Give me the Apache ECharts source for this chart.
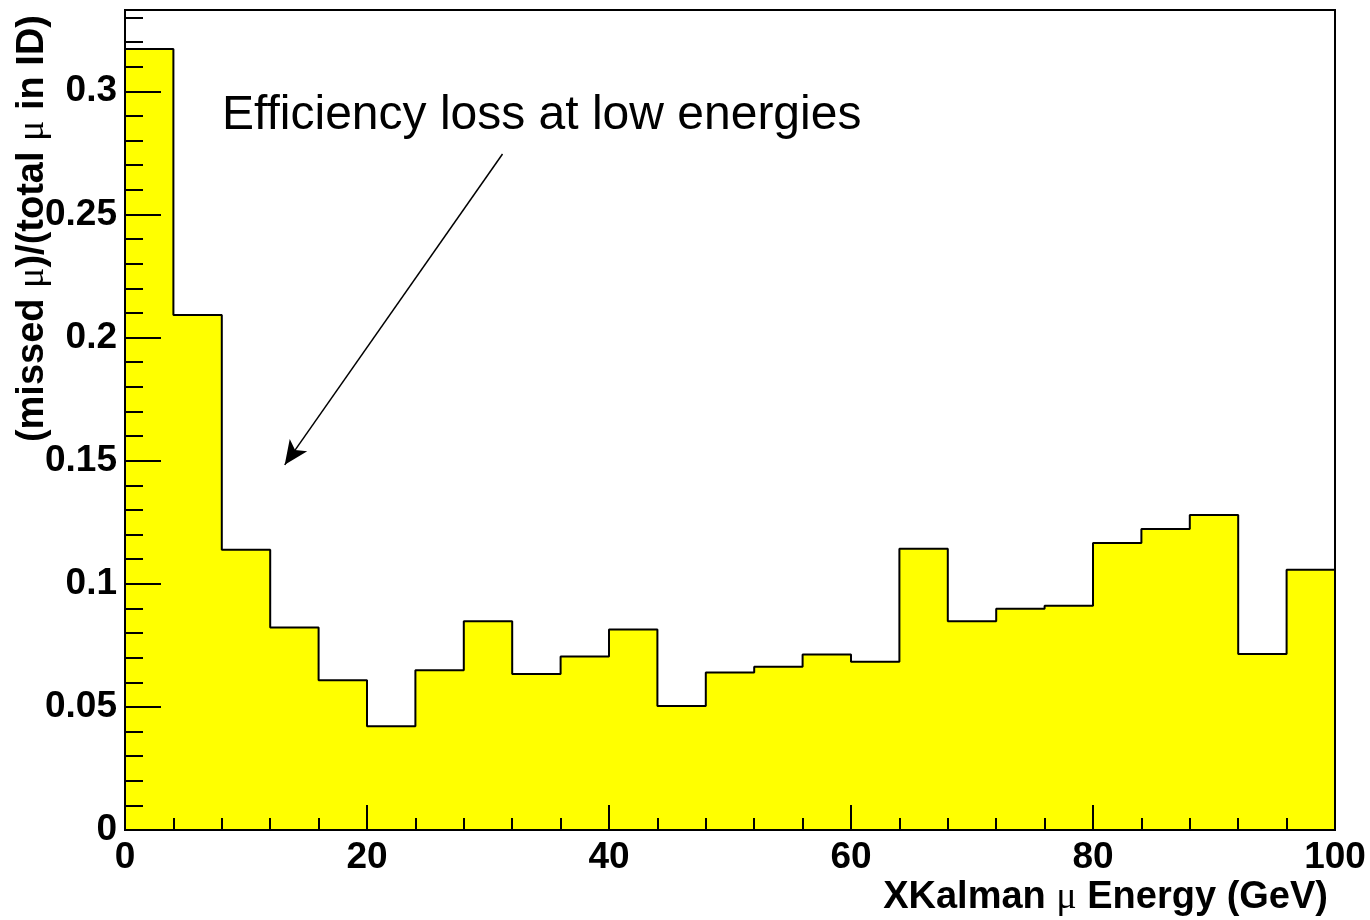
<!DOCTYPE html>
<html>
<head>
<meta charset="utf-8">
<title>Missed muon fraction vs XKalman energy</title>
<script src="https://cdn.jsdelivr.net/npm/echarts@6/dist/echarts.min.js"></script>
<style>
  html, body { margin: 0; padding: 0; background: #ffffff; }
  #chart { width: 1370px; height: 920px; }
</style>
</head>
<body>
<div id="chart"></div>
<script>
// Histogram bin edges (GeV) and the fraction of missed muons in each bin
const binEdges = [0, 4, 8, 12, 16, 20, 24, 28, 32, 36, 40, 44, 48, 52, 56, 60, 64, 68, 72, 76, 80, 84, 88, 92, 96, 100];
const missedFraction = [
  0.3172, 0.2091, 0.1138, 0.0822, 0.0608, 0.0421, 0.0649, 0.0848, 0.0634, 0.0705,
  0.0814, 0.0504, 0.0640, 0.0663, 0.0713, 0.0683, 0.1142, 0.0848, 0.0898, 0.0911,
  0.1165, 0.1222, 0.1279, 0.0715, 0.1057
];

// Axis ranges and tick spacing
const xRange = [0, 100];
const xMajorStep = 20;
const yRange = [0, 0.333];
const yMajorStep = 0.05;
const yMinorStep = 0.01;

// Annotation: text and the arrow pointing at the low-energy bins (data coordinates)
const noteText = 'Efficiency loss at low energies';
const arrowFrom = [31.2, 0.2745];
const arrowTo = [13.2, 0.1483];

// Outline of the histogram as a step path: rise at x=0, one point per bin, drop at x=100
const stepPoints = [[binEdges[0], 0]];
missedFraction.forEach(function (v, i) { stepPoints.push([binEdges[i], v]); });
stepPoints.push([binEdges[binEdges.length - 1], missedFraction[missedFraction.length - 1]]);
stepPoints.push([binEdges[binEdges.length - 1], 0]);

const boldFont = 'Liberation Sans, Arial, Helvetica, sans-serif';
const symbolFont = 'Liberation Serif, DejaVu Serif, serif';
const tickFontSize = 37;
const titleFontSize = 38;

function yLabel(v) {
  if (v > 0.31) return '';
  if (Math.abs(v) < 1e-9) return '0';
  return String(+v.toFixed(2));
}

const chart = echarts.init(document.getElementById('chart'), null, { renderer: 'canvas' });

chart.setOption({
  animation: false,
  backgroundColor: '#ffffff',
  grid: {
    left: 125, right: 35, top: 10, bottom: 90,
    show: true, borderColor: '#000000', borderWidth: 2, backgroundColor: 'transparent'
  },
  xAxis: [{
    type: 'value',
    min: xRange[0], max: xRange[1], interval: xMajorStep,
    z: 5,
    axisLine: { show: true, onZero: false, lineStyle: { color: '#000', width: 2 } },
    axisTick: { show: true, inside: true, length: 25, lineStyle: { color: '#000', width: 2 } },
    minorTick: { show: true, splitNumber: 5, length: 12, lineStyle: { color: '#000', width: 2 } },
    splitLine: { show: false },
    axisLabel: {
      margin: 9, color: '#000', fontSize: tickFontSize, fontWeight: 'bold', fontFamily: boldFont,
      showMinLabel: true, showMaxLabel: true
    }
  }],
  yAxis: [{
    type: 'value',
    min: yRange[0], max: yRange[1], interval: yMajorStep,
    z: 5,
    axisLine: { show: true, onZero: false, lineStyle: { color: '#000', width: 2 } },
    axisTick: { show: true, inside: true, length: 36, lineStyle: { color: '#000', width: 2 } },
    splitLine: { show: false },
    axisLabel: {
      margin: 8, color: '#000', fontSize: tickFontSize, fontWeight: 'bold', fontFamily: boldFont,
      formatter: yLabel
    }
  }, {
    // finer tick marks every 0.01
    type: 'value',
    position: 'left',
    min: yRange[0], max: yRange[1], interval: yMinorStep,
    z: 5,
    axisLine: { show: false },
    axisTick: { show: true, inside: true, length: 18, lineStyle: { color: '#000', width: 2 } },
    splitLine: { show: false },
    axisLabel: { show: false }
  }],
  series: [{
    type: 'line',
    name: 'missed fraction',
    data: stepPoints,
    xAxisIndex: 0,
    yAxisIndex: 0,
    step: 'end',
    showSymbol: false,
    symbol: 'none',
    z: 2,
    silent: true,
    lineStyle: { color: '#000000', width: 2 },
    areaStyle: { color: '#ffff00', opacity: 1 },
    markLine: {
      silent: true,
      symbol: ['none', 'arrow'],
      symbolSize: [16, 24],
      label: { show: false },
      lineStyle: { color: '#000000', width: 1.5, type: 'solid' },
      emphasis: { disabled: true },
      data: [[{ coord: arrowFrom }, { coord: arrowTo }]]
    }
  }],
  graphic: [{
    type: 'text',
    x: 222, y: 116,
    style: {
      text: noteText,
      fill: '#000',
      font: '48px ' + 'Liberation Sans, Arial, Helvetica, sans-serif',
      textAlign: 'left',
      textVerticalAlign: 'middle'
    }
  }, {
    type: 'text',
    x: 1328, y: 898,
    style: {
      text: 'XKalman {mu|\u03bc} Energy (GeV)',
      fill: '#000',
      font: 'bold ' + titleFontSize + 'px ' + boldFont,
      textAlign: 'right',
      textVerticalAlign: 'middle',
      rich: {
        mu: { fontFamily: symbolFont, fontWeight: 'normal', fontSize: titleFontSize, fill: '#000' }
      }
    }
  }, {
    type: 'text',
    x: 33, y: 15,
    rotation: Math.PI / 2,
    style: {
      text: '(missed {mu|\u03bc})/(total {mu|\u03bc} in ID)',
      fill: '#000',
      font: 'bold ' + titleFontSize + 'px ' + boldFont,
      textAlign: 'right',
      textVerticalAlign: 'middle',
      rich: {
        mu: { fontFamily: symbolFont, fontWeight: 'normal', fontSize: titleFontSize, fill: '#000' }
      }
    }
  }]
});
</script>
</body>
</html>
